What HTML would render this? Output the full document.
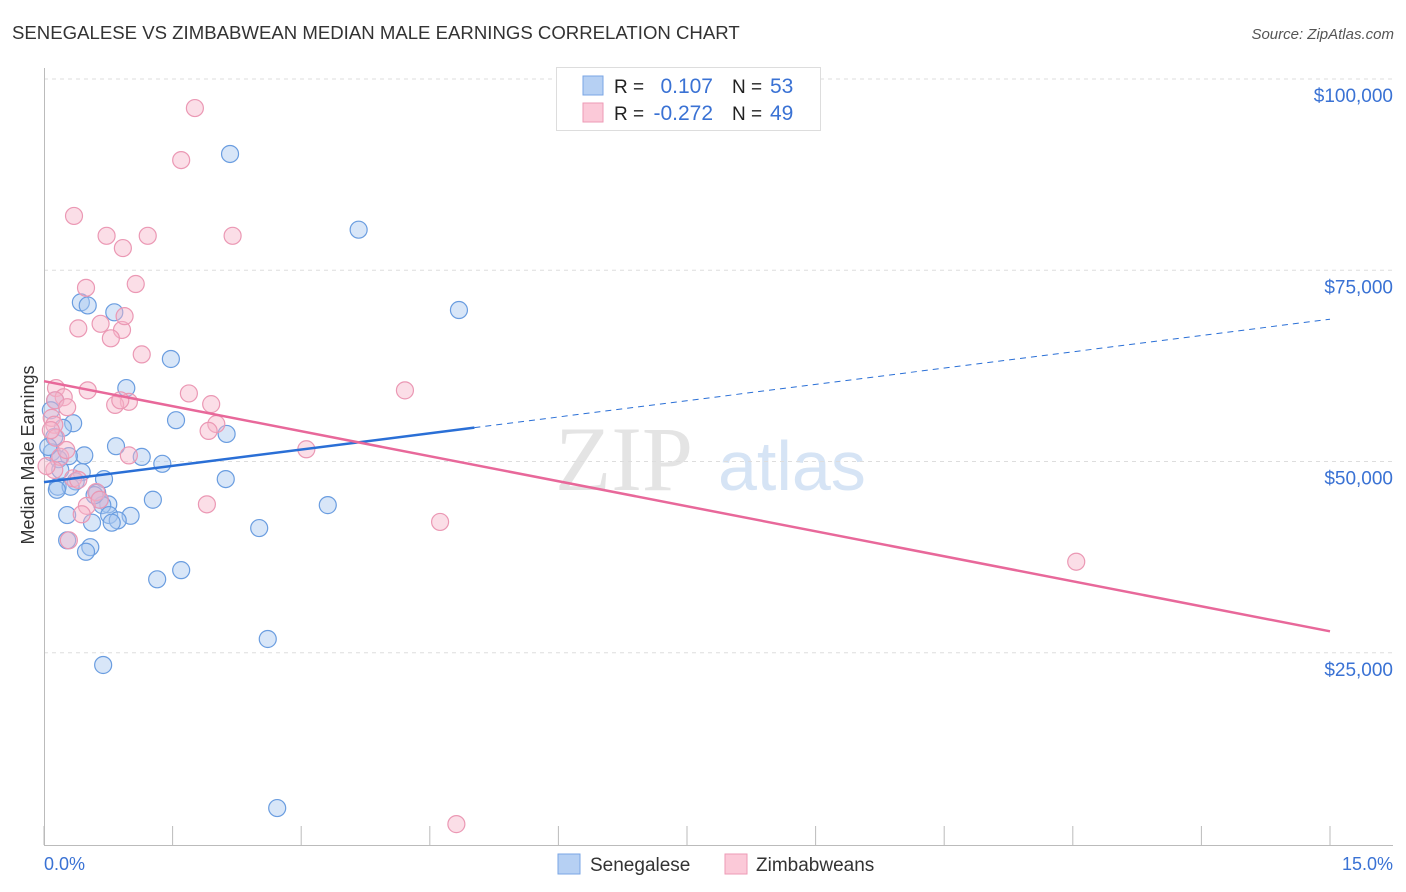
<!DOCTYPE html>
<html><head><meta charset="utf-8"><style>
body{margin:0;background:#fff;font-family:"Liberation Sans",sans-serif;}
svg{display:block}
</style></head><body>
<svg id="chart" width="1406" height="892">
<text x="12" y="39" font-size="18.6" fill="#333">SENEGALESE VS ZIMBABWEAN MEDIAN MALE EARNINGS CORRELATION CHART</text>
<text x="1394" y="39" font-size="15" fill="#555" font-style="italic" text-anchor="end">Source: ZipAtlas.com</text>
<text x="555" y="490" font-size="92" fill="#e4e4e4" font-family="Liberation Serif">ZIP</text>
<text x="718" y="490" font-size="70" fill="#d6e4f5">atlas</text>
<g id="grid"></g>
<g id="axes"></g>
<g id="pts"></g>
<g id="lines"></g>
<text transform="translate(34,455) rotate(-90)" font-size="18" fill="#333" text-anchor="middle">Median Male Earnings</text>
<text x="44" y="870" font-size="18" fill="#3a72d4">0.0%</text>
<text x="1393" y="870" font-size="18" fill="#3a72d4" text-anchor="end">15.0%</text>
<g>
<rect x="556.5" y="67.5" width="264" height="63" fill="#fff" stroke="#ddd"/>
<rect x="583" y="76" width="20" height="19" fill="#b6d0f3" stroke="#7aa6e4"/>
<rect x="583" y="103" width="20" height="19" fill="#fbc9d8" stroke="#ee9ab6"/>
<text x="614" y="93" font-size="19" fill="#222">R = </text><text x="713" y="93" font-size="21" fill="#3a72d4" text-anchor="end">0.107</text>
<text x="732" y="93" font-size="19" fill="#222">N = </text><text x="770" y="93" font-size="21" fill="#3a72d4">53</text>
<text x="614" y="120" font-size="19" fill="#222">R = </text><text x="713" y="120" font-size="21" fill="#3a72d4" text-anchor="end">-0.272</text>
<text x="732" y="120" font-size="19" fill="#222">N = </text><text x="770" y="120" font-size="21" fill="#3a72d4">49</text>
</g>
<g>
<rect x="558" y="854" width="22" height="20" fill="#b6d0f3" stroke="#7aa6e4"/>
<text x="590" y="871" font-size="19" fill="#333">Senegalese</text>
<rect x="725" y="854" width="22" height="20" fill="#fbc9d8" stroke="#ee9ab6"/>
<text x="756" y="871" font-size="19" fill="#333">Zimbabweans</text>
</g>
</svg>
<script>
const yTicks=[25000,50000,75000,100000];
const yTickLabels=["$25,000","$50,000","$75,000","$100,000"];
const xTicks=[0,1.5,3,4.5,6,7.5,9,10.5,12,13.5,15];
const senX=[2.17,3.67,4.84,0.43,0.51,0.82,1.48,0.96,0.13,0.08,0.34,0.22,0.12,1.54,2.13,0.84,0.09,0.47,0.29,0.17,1.14,1.38,0.44,0.70,2.12,0.37,0.16,0.31,0.62,1.27,0.75,0.65,0.68,0.27,0.76,1.01,0.86,0.56,0.79,2.51,3.31,0.27,0.54,0.49,1.60,1.32,2.61,0.69,2.72,0.15,0.59,0.05,0.19];
const senY=[90200,80300,69800,70800,70400,69500,63400,59600,58000,56700,55000,54400,53200,55400,53600,52000,51200,50800,50700,50300,50600,49700,48600,47700,47700,47400,46700,46700,45900,45000,44400,45000,44300,43000,43000,42900,42300,42000,42000,41300,44300,39700,38800,38200,35800,34600,26800,23400,4700,46300,45600,51900,48900];
const zimX=[1.76,1.60,0.35,0.73,1.21,2.20,0.92,1.07,0.49,0.40,0.66,0.91,0.78,0.94,1.14,0.14,0.51,0.23,0.13,0.27,0.99,0.83,1.69,1.95,4.21,0.09,0.12,2.01,1.92,0.14,0.99,3.06,0.19,0.12,0.34,0.40,0.61,0.50,1.90,0.44,4.62,0.29,12.04,4.81,0.08,0.26,0.03,0.65,0.89];
const zimY=[96200,89400,82100,79500,79500,79500,77900,73200,72700,67400,68000,67200,66100,69000,64000,59600,59300,58400,58000,57100,57800,57400,58900,57500,59300,55700,54800,54900,54000,53100,50800,51600,50600,48900,47800,47600,46000,44200,44400,43100,42100,39700,36900,2600,54100,51500,49400,45000,58000];
const senTrend=[47300,68600]; const senSolidEnd=5.02;
const zimTrend=[60500,27800];
const NS="http://www.w3.org/2000/svg";
const X=v=>44+v/15*1286, Y=v=>844-v/100000*765;
function mk(p,t,a){const e=document.createElementNS(NS,t);for(const k in a)e.setAttribute(k,a[k]);p.appendChild(e);return e;}
const grid=document.getElementById('grid'),axes=document.getElementById('axes'),pts=document.getElementById('pts'),lines=document.getElementById('lines');
yTicks.forEach((t,i)=>{
 const l=mk(grid,'line',{x1:44,x2:1393,y1:Y(t),y2:Y(t),stroke:'#ddd','stroke-dasharray':'4,4'});
 
 
 const tx=mk(grid,'text',{x:1393,y:Y(t)+23,'font-size':19,fill:'#3a72d4','text-anchor':'end'});tx.textContent=yTickLabels[i];
 
 
});
const ya=mk(axes,'line',{x1:44.5,x2:44.5,y1:68,y2:845,stroke:'#bbb'});


const xa=mk(axes,'line',{x1:44,x2:1393,y1:845.5,y2:845.5,stroke:'#bbb'});


xTicks.forEach(t=>{const l=mk(axes,'line',{x1:X(t),x2:X(t),y1:826,y2:845,stroke:'#bbb'});
 
 });
function dots(xs,ys,fill,stroke,name){xs.forEach((x,i)=>{const c=mk(pts,'circle',{cx:X(x),cy:Y(ys[i]),r:8.5,fill:fill,'fill-opacity':0.45,stroke:stroke,'stroke-width':1.2});
 
 });}
dots(senX,senY,'#a9c7f0','#6a9de0','senegalese-point');
dots(zimX,zimY,'#f7b5ca','#eb98b4','zimbabwean-point');
const sy=x=>senTrend[0]+(senTrend[1]-senTrend[0])*x/15;
const l1=mk(lines,'line',{x1:X(0),y1:Y(sy(0)),x2:X(senSolidEnd),y2:Y(sy(senSolidEnd)),stroke:'#2a6fd6','stroke-width':2.5});


const l2=mk(lines,'line',{x1:X(senSolidEnd),y1:Y(sy(senSolidEnd)),x2:X(15),y2:Y(sy(15)),stroke:'#2a6fd6','stroke-width':1,'stroke-dasharray':'6,5'});


const l3=mk(lines,'line',{x1:X(0),y1:Y(zimTrend[0]),x2:X(15),y2:Y(zimTrend[1]),stroke:'#e8689a','stroke-width':2.5});


</script>
</body></html>
